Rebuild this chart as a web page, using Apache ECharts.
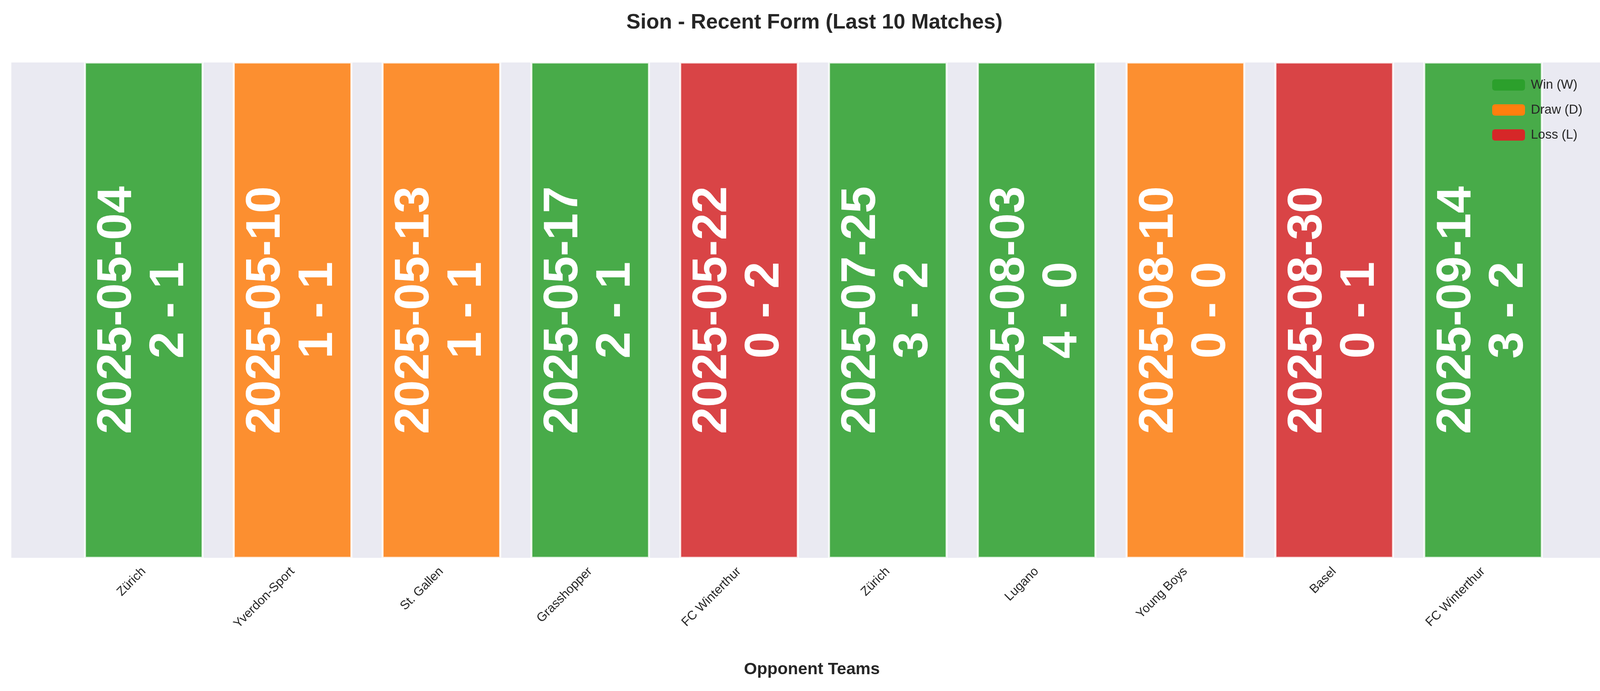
<!DOCTYPE html>
<html>
<head>
<meta charset="utf-8">
<script src="https://cdn.jsdelivr.net/npm/echarts@6/dist/echarts.min.js"></script>
<style>html,body{margin:0;padding:0;background:#fff}#chart{width:4170px;height:1769px}</style>
</head>
<body>
<div id="chart"></div>
<script>
var teams = ['Zürich', 'Yverdon-Sport', 'St. Gallen', 'Grasshopper', 'FC Winterthur', 'Zürich', 'Lugano', 'Young Boys', 'Basel', 'FC Winterthur'];
var dates = ['2025-05-04', '2025-05-10', '2025-05-13', '2025-05-17', '2025-05-22', '2025-07-25', '2025-08-03', '2025-08-10', '2025-08-30', '2025-09-14'];
var scores = ['2 - 1', '1 - 1', '1 - 1', '2 - 1', '0 - 2', '3 - 2', '4 - 0', '0 - 0', '0 - 1', '3 - 2'];
var results = ['W', 'D', 'D', 'W', 'L', 'W', 'W', 'D', 'L', 'W'];

var colors = {W: '#2ca02c', D: '#ff7f0e', L: '#d62728'};
var names = {W: 'Win (W)', D: 'Draw (D)', L: 'Loss (L)'};
var positions = teams.map(function (t, i) { return i; });

var chart = echarts.init(document.getElementById('chart'));

var matchData = positions.map(function (p, i) { return [p, 1, i]; });

option = {
    backgroundColor: '#ffffff',
    animation: false,
    title: {
        text: 'Sion - Recent Form (Last 10 Matches)',
        left: 'center',
        top: 26,
        textStyle: {fontFamily: 'Liberation Sans', fontSize: 54, fontWeight: 'bold', color: '#262626'}
    },
    legend: {
        orient: 'vertical',
        left: 3815,
        top: 196,
        itemWidth: 84,
        itemHeight: 29,
        itemGap: 31,
        textStyle: {fontFamily: 'Liberation Sans', fontSize: 33, color: '#262626', padding: [0, 0, 0, 10]},
        data: ['Win (W)', 'Draw (D)', 'Loss (L)']
    },
    grid: {
        left: 29, right: 42, top: 160, bottom: 341,
        show: true, backgroundColor: '#eaeaf2', borderWidth: 0
    },
    xAxis: {
        type: 'value',
        min: -0.89,
        max: 9.87,
        name: 'Opponent Teams',
        nameLocation: 'middle',
        nameGap: 265,
        nameTextStyle: {fontFamily: 'Liberation Sans', fontSize: 43, fontWeight: 'bold', color: '#262626'},
        axisLine: {show: false},
        axisTick: {show: false},
        splitLine: {show: false},
        axisLabel: {
            customValues: positions,
            rotate: 45,
            margin: 30,
            fontFamily: 'Liberation Sans',
            fontSize: 32,
            color: '#262626',
            formatter: function (v) { return teams[Math.round(v)]; }
        }
    },
    yAxis: {
        type: 'value', min: 0, max: 1,
        axisLine: {show: false}, axisTick: {show: false},
        axisLabel: {show: false}, splitLine: {show: false}
    },
    series: [{
        type: 'custom',
        name: 'matches',
        data: matchData,
        renderItem: function (params, api) {
            var i = api.value(2);
            var x = api.value(0);
            var left = api.coord([x - 0.395, 1]);
            var right = api.coord([x + 0.395, 0]);
            var mid = api.coord([x, 0.5]);
            var c = colors[results[i]];
            return {
                type: 'group',
                children: [{
                    type: 'rect',
                    shape: {x: left[0], y: left[1], width: right[0] - left[0], height: right[1] - left[1]},
                    style: {fill: c, opacity: 0.85, stroke: '#ffffff', lineWidth: 5}
                }, {
                    type: 'text',
                    x: mid[0],
                    y: mid[1],
                    rotation: Math.PI / 2,
                    style: {
                        text: dates[i] + '\n' + scores[i],
                        align: 'center',
                        verticalAlign: 'middle',
                        fontFamily: 'Liberation Sans',
                        fontWeight: 'bold',
                        fontSize: 124,
                        lineHeight: 134,
                        fill: '#ffffff'
                    }
                }]
            };
        }
    }].concat(['W', 'D', 'L'].map(function (k) {
        return {type: 'bar', name: names[k], data: [], itemStyle: {color: colors[k]}};
    }))
};

chart.setOption(option);
</script>
</body>
</html>
